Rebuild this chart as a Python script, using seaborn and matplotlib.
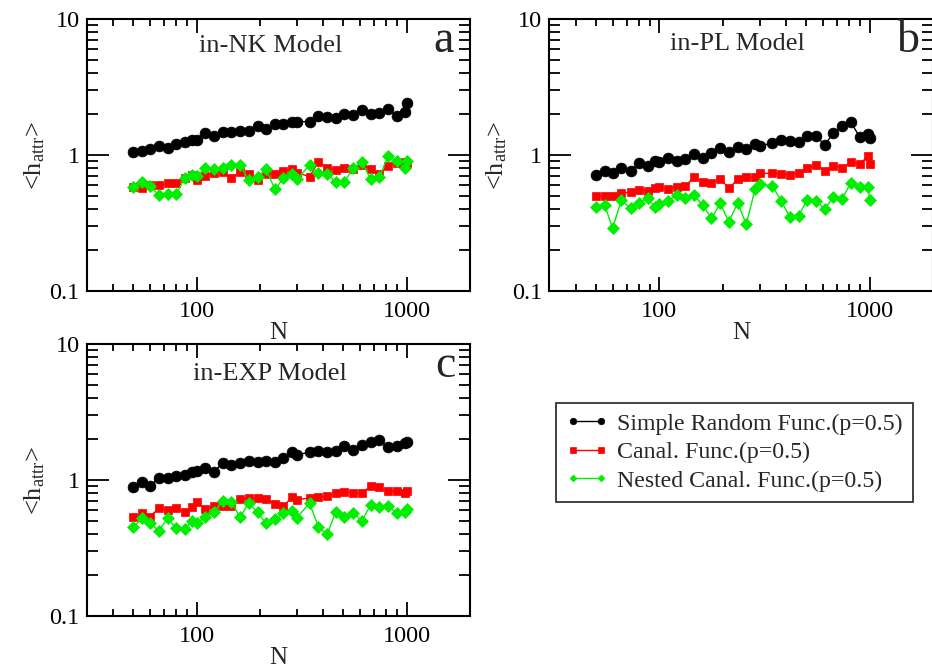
import matplotlib
matplotlib.use("Agg")
import matplotlib.pyplot as plt
import seaborn as sns
import pandas as pd
from matplotlib.ticker import LogLocator, NullFormatter, FixedLocator, FixedFormatter

# ---------------- data ----------------
N = [50, 55, 60, 66, 73, 80, 88, 95, 100, 110, 121, 133, 146, 161, 177, 195, 214,
     236, 259, 285, 300, 345, 380, 418, 459, 505, 556, 612, 673, 740, 814, 895, 985, 1000]

nk_simple = [1.058, 1.076, 1.10, 1.165, 1.13, 1.205, 1.24, 1.30, 1.30, 1.46,
             1.38, 1.47, 1.47, 1.50, 1.50, 1.63, 1.55, 1.68, 1.68, 1.74,
             1.76, 1.76, 1.94, 1.89, 1.86, 2.00, 1.97, 2.13, 1.99, 2.05,
             2.18, 1.94, 2.07, 2.43]
nk_canal = [0.585, 0.569, 0.602, 0.602, 0.619, 0.626, 0.674, 0.713, 0.655, 0.701,
            0.742, 0.754, 0.674, 0.754, 0.725, 0.655, 0.725, 0.73, 0.767, 0.785,
            0.742, 0.693, 0.893, 0.807, 0.776, 0.807, 0.785, 0.844, 0.785, 0.725,
            0.830, 0.879, 0.893, 0.879]
nk_nested = [0.585, 0.637, 0.592, 0.508, 0.517, 0.517, 0.674, 0.713, 0.701, 0.798,
             0.785, 0.798, 0.844, 0.844, 0.655, 0.693, 0.785, 0.559, 0.674, 0.725,
             0.662, 0.844, 0.733, 0.725, 0.637, 0.637, 0.798, 0.893, 0.662, 0.685,
             0.98, 0.909, 0.798, 0.909]

pl_simple = [0.713, 0.767, 0.742, 0.807, 0.763, 0.869, 0.830, 0.903, 0.888, 0.945,
             0.903, 0.935, 1.017, 0.956, 1.029, 1.12, 1.046, 1.14, 1.107, 1.198,
             1.17, 1.219, 1.289, 1.274, 1.253, 1.38, 1.38, 1.184, 1.46, 1.63,
             1.74, 1.364, 1.419, 1.341]
pl_canal = [0.50, 0.50, 0.50, 0.523, 0.532, 0.553, 0.547, 0.575, 0.585, 0.559,
            0.585, 0.592, 0.685, 0.633, 0.626, 0.670, 0.569, 0.662, 0.685, 0.685,
            0.733, 0.733, 0.725, 0.717, 0.742, 0.798, 0.844, 0.767, 0.830, 0.807,
            0.884, 0.854, 0.989, 0.86]
pl_nested = [0.412, 0.427, 0.289, 0.467, 0.405, 0.446, 0.480, 0.417, 0.434, 0.462,
             0.508, 0.480, 0.508, 0.427, 0.342, 0.441, 0.323, 0.446, 0.309, 0.559,
             0.612, 0.592, 0.459, 0.348, 0.358, 0.467, 0.462, 0.398, 0.494, 0.475,
             0.626, 0.578, 0.578, 0.467]

exp_simple = [0.893, 0.961, 0.909, 1.029, 1.029, 1.064, 1.088, 1.139, 1.171, 1.219,
              1.152, 1.326, 1.289, 1.334, 1.387, 1.348, 1.387, 1.364, 1.451, 1.615,
              1.535, 1.597, 1.643, 1.615, 1.643, 1.768, 1.671, 1.808, 1.914, 1.968,
              1.738, 1.788, 1.871, 1.914]
exp_canal = [0.532, 0.569, 0.538, 0.619, 0.605, 0.619, 0.578, 0.630, 0.685, 0.612,
             0.640, 0.640, 0.640, 0.725, 0.733, 0.733, 0.725, 0.666, 0.640, 0.754,
             0.717, 0.737, 0.745, 0.767, 0.798, 0.821, 0.806, 0.806, 0.898, 0.884,
             0.826, 0.826, 0.806, 0.835]
exp_nested = [0.449, 0.523, 0.483, 0.424, 0.523, 0.441, 0.436, 0.502, 0.483, 0.532,
              0.578, 0.705, 0.693, 0.532, 0.677, 0.578, 0.480, 0.517, 0.569, 0.595,
              0.527, 0.677, 0.449, 0.401, 0.578, 0.532, 0.569, 0.502, 0.655, 0.630,
              0.648, 0.569, 0.585, 0.612]

series_labels = ["Simple Random Func.(p=0.5)", "Canal. Func.(p=0.5)",
                 "Nested Canal. Func.(p=0.5)"]
panel_titles = ["in-NK Model", "in-PL Model", "in-EXP Model"]
panel_letters = ["a", "b", "c"]
y_ticks = [0.1, 1, 10]
y_ticklabels = ["0.1", "1", "10"]
x_ticks = [100, 1000]
x_ticklabels = ["100", "1000"]

# ---------------- style ----------------
sns.set_theme(style="ticks")
plt.rcParams["font.family"] = ["Liberation Serif", "DejaVu Serif"]
plt.rcParams["mathtext.fontset"] = "custom"
plt.rcParams["mathtext.rm"] = "Liberation Serif"
plt.rcParams["mathtext.it"] = "Liberation Serif:italic"

colors = ["#000000", "#ff0000", "#00ee00"]
markers = ["o", "s", "D"]
msizes = [7.8, 6.2, 5.8]

fig = plt.figure(figsize=(9.32, 6.67), dpi=100)
W, H = 932.0, 667.0
ax_a = fig.add_axes([86.7 / W, 1 - 291 / H, 383.3 / W, 272 / H])
ax_b = fig.add_axes([549.3 / W, 1 - 291 / H, 383.7 / W, 272 / H])
ax_c = fig.add_axes([86.7 / W, 1 - 616 / H, 383.3 / W, 272 / H])

panels = [
    (ax_a, [nk_simple, nk_canal, nk_nested], (0.481, 0.88), (0.932, 0.879)),
    (ax_b, [pl_simple, pl_canal, pl_nested], (0.49, 0.886), (0.935, 0.879)),
    (ax_c, [exp_simple, exp_canal, exp_nested], (0.478, 0.868), (0.935, 0.879)),
]

for i, (ax, data, tpos, lpos) in enumerate(panels):
    for j, vals in enumerate(data):
        df = pd.DataFrame({"N": N, "h": vals})
        sns.lineplot(data=df, x="N", y="h", ax=ax, color=colors[j],
                     marker=markers[j], markersize=msizes[j],
                     markeredgecolor=colors[j], markeredgewidth=0.5,
                     linewidth=1.0, estimator=None, sort=False,
                     label=series_labels[j], legend=False)
    ax.set_xscale("log")
    ax.set_yscale("log")
    ax.set_xlim(30, 2000)
    ax.set_ylim(0.1, 10)
    ax.xaxis.set_major_locator(FixedLocator(x_ticks))
    ax.xaxis.set_major_formatter(FixedFormatter(x_ticklabels))
    ax.xaxis.set_minor_locator(LogLocator(base=10, subs=range(2, 10), numticks=20))
    ax.xaxis.set_minor_formatter(NullFormatter())
    ax.yaxis.set_major_locator(FixedLocator(y_ticks))
    ax.yaxis.set_major_formatter(FixedFormatter(y_ticklabels))
    ax.yaxis.set_minor_locator(LogLocator(base=10, subs=range(2, 10), numticks=20))
    ax.yaxis.set_minor_formatter(NullFormatter())
    ax.tick_params(axis="both", which="both", direction="in", top=True, right=True,
                   colors="black", labelsize=17.5, width=1.3)
    ax.tick_params(axis="x", which="major", length=10, pad=7)
    ax.tick_params(axis="x", which="minor", length=5)
    ax.tick_params(axis="y", which="major", length=16, pad=5)
    ax.tick_params(axis="y", which="minor", length=8)
    for sp in ax.spines.values():
        sp.set_visible(True)
        sp.set_color("black")
        sp.set_linewidth(1.5)
    ax.set_xlabel("N", fontsize=18, labelpad=0)
    ax.set_ylabel(r"<h$_{\rm attr}$>", fontsize=19, labelpad=2)
    ax.text(tpos[0], tpos[1], panel_titles[i], transform=ax.transAxes,
            ha="center", va="baseline", fontsize=19)
    ax.text(lpos[0], lpos[1], panel_letters[i], transform=ax.transAxes,
            ha="center", va="baseline", fontsize=33)
    ax.set_facecolor("white")
    ax.grid(False)

handles, labels = ax_a.get_legend_handles_labels()
leg = fig.legend(handles, labels, loc="upper left",
                 bbox_to_anchor=(556 / W, 1 - 403 / H), fontsize=17.2,
                 frameon=True, fancybox=False, edgecolor="black",
                 markerscale=0.6, numpoints=2, handlelength=1.75,
                 handletextpad=0.4, labelspacing=0.28, borderpad=0.42,
                 borderaxespad=0)
leg.get_frame().set_linewidth(1.3)

fig.savefig("out.png", dpi=100, facecolor="white")
